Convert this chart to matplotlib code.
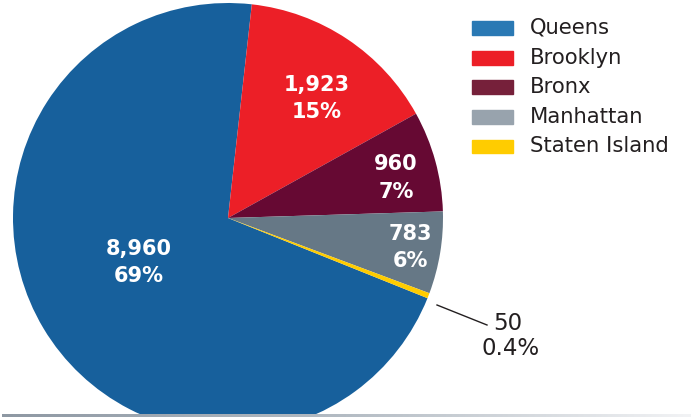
import matplotlib
matplotlib.use("Agg")
import matplotlib.pyplot as plt
import numpy as np
from matplotlib.patches import Rectangle
from matplotlib.colors import LinearSegmentedColormap

plt.rcParams['font.family'] = ['DejaVu Sans']

boroughs = ["Queens", "Brooklyn", "Bronx", "Manhattan", "Staten Island"]
counts = [8960, 1923, 960, 783, 50]
pct_labels = ["69%", "15%", "7%", "6%", "0.4%"]
count_labels = ["8,960", "1,923", "960", "783", "50"]
pie_colors = ["#17609C", "#EC1F27", "#660933", "#667886", "#FFCC00"]
legend_colors = ["#2A79B4", "#EC1F27", "#76203A", "#98A3AD", "#FFCC00"]

W, H = 691, 417
fig = plt.figure(figsize=(W / 100, H / 100), dpi=100)

cx, cy, R = 228, 218, 215
ax = fig.add_axes([(cx - R) / W, (H - cy - R) / H, 2 * R / W, 2 * R / H])

wedges, _ = ax.pie(counts, colors=pie_colors, startangle=-21.9, counterclock=False,
                   radius=1, wedgeprops=dict(linewidth=0))
ax.set_xlim(-1, 1)
ax.set_ylim(-1, 1)
ax.set_aspect('equal')
ax.axis('off')

# clip pie at bottom rule
clip_rect = Rectangle((-1.1, -(414 - cy) / R), 2.2, 3, transform=ax.transData)
for w in wedges:
    w.set_clip_path(clip_rect)

def px(x, y):
    return ((x - cx) / R, (cy - y) / R)

fs_in = 15
inside_pos = {0: (138.5, 249), 1: (317, 85), 2: (396, 164.5), 3: (410, 233.5)}
for i, (x, y) in inside_pos.items():
    ax.text(*px(x, y), count_labels[i], ha='center', va='center', color='white',
            fontsize=fs_in, fontweight='bold')
    ax.text(*px(x, y + 27.5), pct_labels[i], ha='center', va='center', color='white',
            fontsize=fs_in, fontweight='bold')

# Staten Island callout
ax.plot(*zip(px(437, 305), px(487, 325)), color='#231F20', lw=1.0, clip_on=False)
ax.text(*px(508, 323.5), count_labels[4], ha='center', va='center', color='#231F20',
        fontsize=16.5, clip_on=False)
ax.text(*px(511, 348.5), pct_labels[4], ha='center', va='center', color='#231F20',
        fontsize=16.5, clip_on=False)

# legend
row_y = [28, 58, 87, 117, 146]
for name, col, y in zip(boroughs, legend_colors, row_y):
    fig.patches.append(Rectangle((472 / W, 1 - (y + 6.5) / H), 41 / W, 13 / H,
                                 transform=fig.transFigure, color=col, zorder=3))
    fig.text(530 / W, 1 - y / H, name, ha='left', va='center', color='#231F20',
             fontsize=15.2)

# bottom gradient rule
rule = fig.add_axes([2 / W, 0, (W - 2) / W, 3.2 / H])
grad = np.linspace(0, 1, 256)[None, :]
cm = LinearSegmentedColormap.from_list('g', ['#8E98A3', '#B4BCC4', '#F2F3F5'])
rule.imshow(grad, aspect='auto', cmap=cm, extent=[0, 1, 0, 1])
rule.axis('off')

fig.savefig('out.png', dpi=100)
